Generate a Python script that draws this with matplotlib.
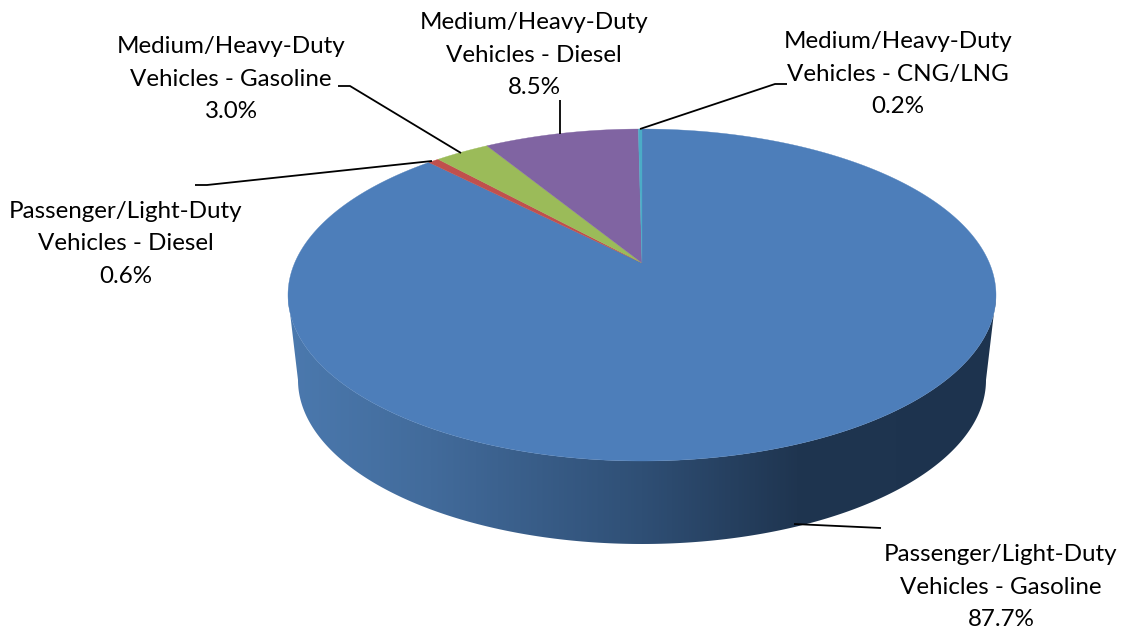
import numpy as np
import matplotlib
matplotlib.use("Agg")
import matplotlib.pyplot as plt
from matplotlib.colors import LinearSegmentedColormap
from matplotlib.patches import Polygon

# ---- data (clockwise from twelve o'clock) ----
vehicle_class = ["Passenger/Light-Duty", "Passenger/Light-Duty", "Medium/Heavy-Duty",
                 "Medium/Heavy-Duty", "Medium/Heavy-Duty"]
fuel = ["Gasoline", "Diesel", "Gasoline", "Diesel", "CNG/LNG"]
shares = [87.7, 0.6, 3.0, 8.5, 0.2]
colors = ["#4d7eba", "#c0504d", "#9bbb59", "#8064a2", "#4bacc6"]

# ---- layout (pixels) ----
W, H = 1122, 629
CX, APEX_Y = 642, 263
TOP_Y, BOT_Y = 129, 461
RX = 354
label_pos = [(1001, 587), (126, 244), (231, 79), (534, 55), (898, 74)]
leaders = [[(794, 524), (881, 528)],
           [(195, 185), (207, 185), (432, 161)],
           [(338, 86), (350, 86), (461, 153)],
           [(560, 100), (560, 134)],
           [(787, 84), (775, 84), (640, 129)]]
LINE_GAP = 32.5

plt.rcParams['font.family'] = ['Lato', 'DejaVu Sans']
fig = plt.figure(figsize=(W / 100, H / 100), dpi=100)
ax = fig.add_axes([0, 0, 1, 1])
ax.set_xlim(0, W)
ax.set_ylim(H, 0)
ax.axis("off")

# perspective mapping of the unit disc to the tilted top face
c = ((APEX_Y - TOP_Y) * -1 + (BOT_Y - APEX_Y)) / (BOT_Y - TOP_Y)
a = TOP_Y * (1 + c) - APEX_Y
K = RX * np.sqrt(1 - c ** 2)


def project(r, theta):
    u, v = r * np.sin(theta), r * np.cos(theta)
    d = 1 + c * v
    return CX + K * u / d, (APEX_Y + a * v) / d


# side wall: gradient clipped to the visible front band
t = np.linspace(0, 2 * np.pi, 1500)
ex, ey = project(1.0, t)
front = (t > np.pi / 4) & (t < 7 * np.pi / 4)
ex, ey = ex[front], ey[front]
keep = ey >= 295
ex, ey = ex[keep], ey[keep]
BX, BY, BRX, BRY = 642, 380, 344, 164
s = np.linspace(0, np.pi, 300)
bx = BX + BRX * np.cos(s)
by = BY + BRY * np.sin(s)
band = np.vstack([np.column_stack([ex, ey]),
                  np.column_stack([bx, by])[::-1]])
cmap = LinearSegmentedColormap.from_list(
    "side", [(0, "#4b79ae"), (0.2, "#426b9b"), (0.5, "#2f4f75"), (0.72, "#1f3550"), (1, "#1d334e")])
grad = np.linspace(0, 1, 512)[None, :]
im = ax.imshow(grad, extent=(288, 996, BY + BRY + 2, 280), cmap=cmap, aspect="auto", zorder=1)
clip = Polygon(band, closed=True, transform=ax.transData, fc="none", ec="none")
ax.add_patch(clip)
im.set_clip_path(clip)
ax.set_xlim(0, W)
ax.set_ylim(H, 0)

# top face wedges from the shares
edges = np.cumsum([0] + shares) / sum(shares) * 2 * np.pi
for start, end, col in zip(edges[:-1], edges[1:], colors):
    th = np.linspace(start, end, max(3, int((end - start) * 120)))
    x, y = project(1.0, th)
    px = np.r_[CX, x]
    py = np.r_[APEX_Y, y]
    ax.fill(px, py, color=col, lw=0.25, zorder=2)

# leader lines
for pts in leaders:
    xs, ys = zip(*pts)
    ax.plot(xs, ys, color="black", lw=1.3, zorder=3, solid_capstyle="butt")

# labels
for cls, f, v, (x, y) in zip(vehicle_class, fuel, shares, label_pos):
    lines = [cls, f"Vehicles - {f}", f"{v:.1f}%"]
    for i, line in enumerate(lines):
        ax.text(x, y + (i - 1) * LINE_GAP, line, ha="center", va="center",
                fontsize=17.4, color="black", zorder=4)

fig.savefig("out.png", dpi=100)
